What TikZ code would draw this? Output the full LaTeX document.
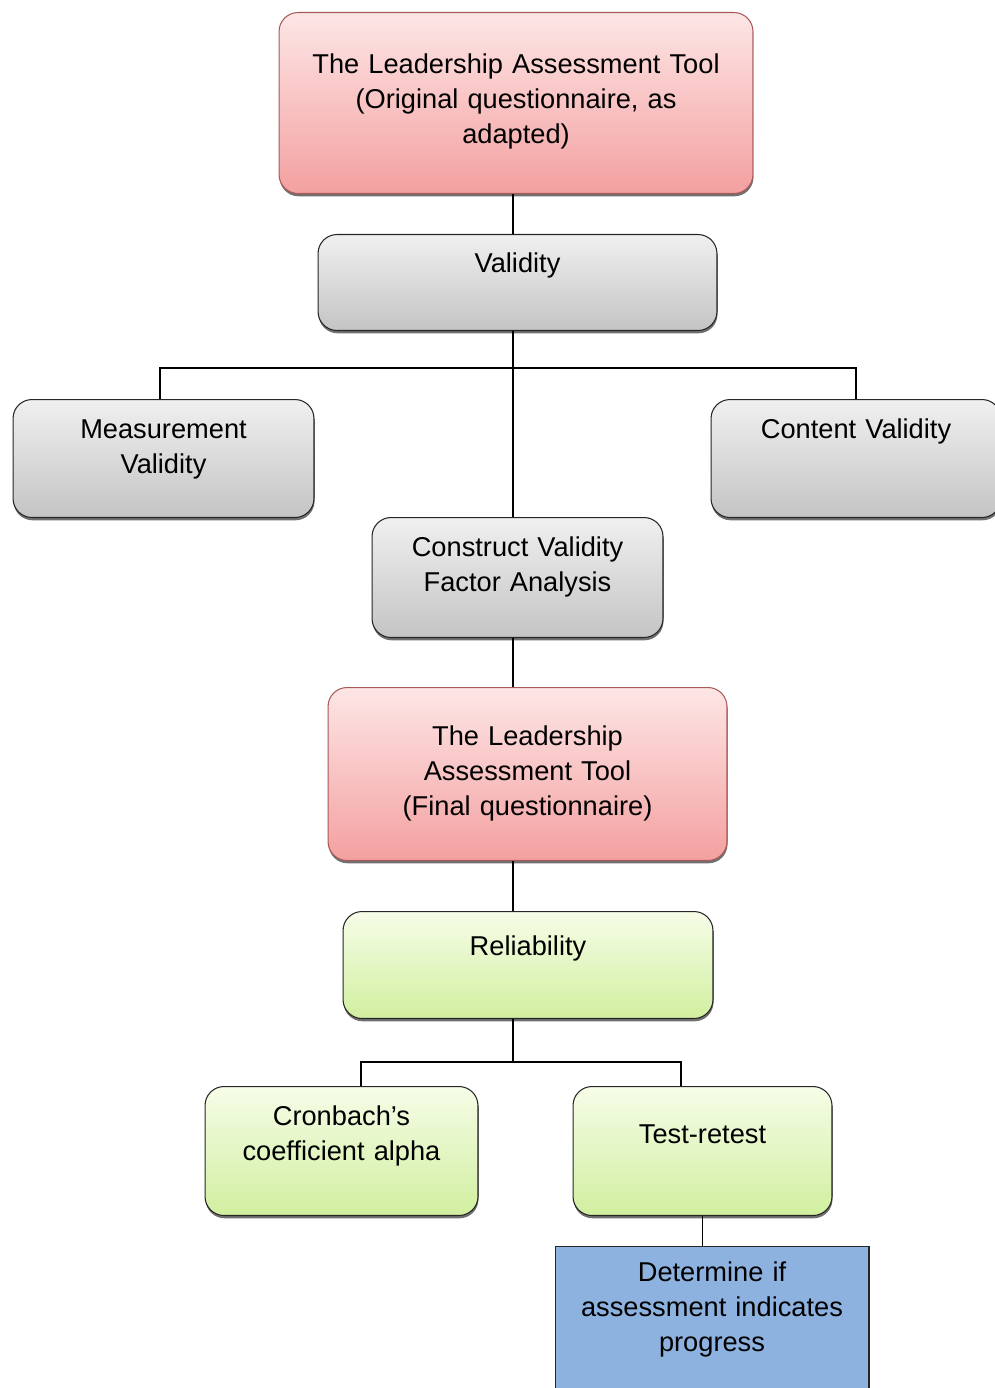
\documentclass[tikz,border=0pt]{standalone}
\usepackage{fontspec}
\setmainfont{Liberation Sans}
\usetikzlibrary{shadows}

\definecolor{pinktop}{HTML}{FDE6E6}
\definecolor{pinkbot}{HTML}{F4A0A0}
\definecolor{pinkline}{HTML}{A85A5A}
\definecolor{greytop}{HTML}{F0F0F0}
\definecolor{greybot}{HTML}{C4C4C4}
\definecolor{greentop}{HTML}{F6FDE8}
\definecolor{greenbot}{HTML}{D1EF9F}
\definecolor{bluefill}{HTML}{8DB2E0}

\begin{document}
\begin{tikzpicture}[x=0.02cm,y=-0.02cm,
				block/.style ={rectangle, draw=black!85, line width=0.6pt,
					inner sep=0pt, anchor=north, align=center,
					font=\fontsize{15.5}{19.9}\selectfont},
				block_round/.style ={block, rounded corners=0.38cm,
					drop shadow={shadow xshift=0.3pt,shadow yshift=-1.6pt,opacity=0.8,fill=black!70}},
				% text width, top edge to first baseline, first baseline to bottom edge
				dims/.style n args={3}{text width=#1, text height=#2, text depth=#3},
				block_pink/.style ={block_round, draw=pinkline, top color=pinktop, bottom color=pinkbot},
				block_grey/.style ={block_round, top color=greytop, bottom color=greybot},
				block_green/.style ={block_round, top color=greentop, bottom color=greenbot},
				block_blue/.style ={block, fill=bluefill},
				line/.style ={draw, line width=0.6pt}]
				\useasboundingbox (0,0) rectangle (994,1388);
				% validity part
				\node [block_pink, dims={9.48cm}{1.22cm}{2.40cm}] (orig) at (516,12)
					{The Leadership Assessment Tool\\(Original questionnaire, as\\adapted)};
				\node [block_grey, dims={7.98cm}{0.76cm}{1.16cm}] (valid) at (517.5,234) {Validity};
				\node [block_grey, dims={6.02cm}{0.78cm}{1.58cm}] (meas) at (163.5,399) {Measurement\\Validity};
				\node [block_grey, dims={5.80cm}{0.78cm}{1.58cm}] (cont) at (856,399) {Content Validity};
				\node [block_grey, dims={5.82cm}{0.78cm}{1.62cm}] (cons) at (517.5,517) {Construct Validity\\Factor Analysis};
				% reliability part
				\node [block_pink, dims={7.98cm}{1.16cm}{2.30cm}] (final) at (527.5,687)
					{The Leadership\\Assessment Tool\\(Final questionnaire)};
				\node [block_green, dims={7.40cm}{0.88cm}{1.26cm}] (rel) at (528,911) {Reliability};
				\node [block_green, dims={5.46cm}{0.78cm}{1.80cm}] (cron) at (341.5,1086) {Cronbach's\\coefficient alpha};
				\node [block_green, dims={5.18cm}{1.14cm}{1.44cm}] (test) at (702.5,1086) {Test-retest};
				\node [block_blue, dims={6.28cm}{0.70cm}{2.50cm}] (det) at (712,1246)
					{Determine if\\assessment indicates\\progress};
				% connecting nodes with paths
				\coordinate (vfork) at (513,368);
				\coordinate (rfork) at (513,1062);
				\begin{scope}[every path/.style=line]
					\path [line width=1.6pt] (orig.south -| vfork) -- (valid.north -| vfork);
					\path (valid.south -| vfork) -- (cons.north -| vfork);
					\path ([xshift=-0.07cm]meas.north) |- (vfork) -| (cont.north);
					\path (cons.south -| vfork) -- (final.north -| vfork);
					\path (final.south -| vfork) -- (rel.north -| vfork);
					\path (rel.south -| rfork) -- (rfork);
					\path ([xshift=0.39cm]cron.north) |- (rfork) -| ([xshift=-0.43cm]test.north);
					\path (test.south) -- (test.south |- det.north);
				\end{scope}
\end{tikzpicture}
\end{document}
